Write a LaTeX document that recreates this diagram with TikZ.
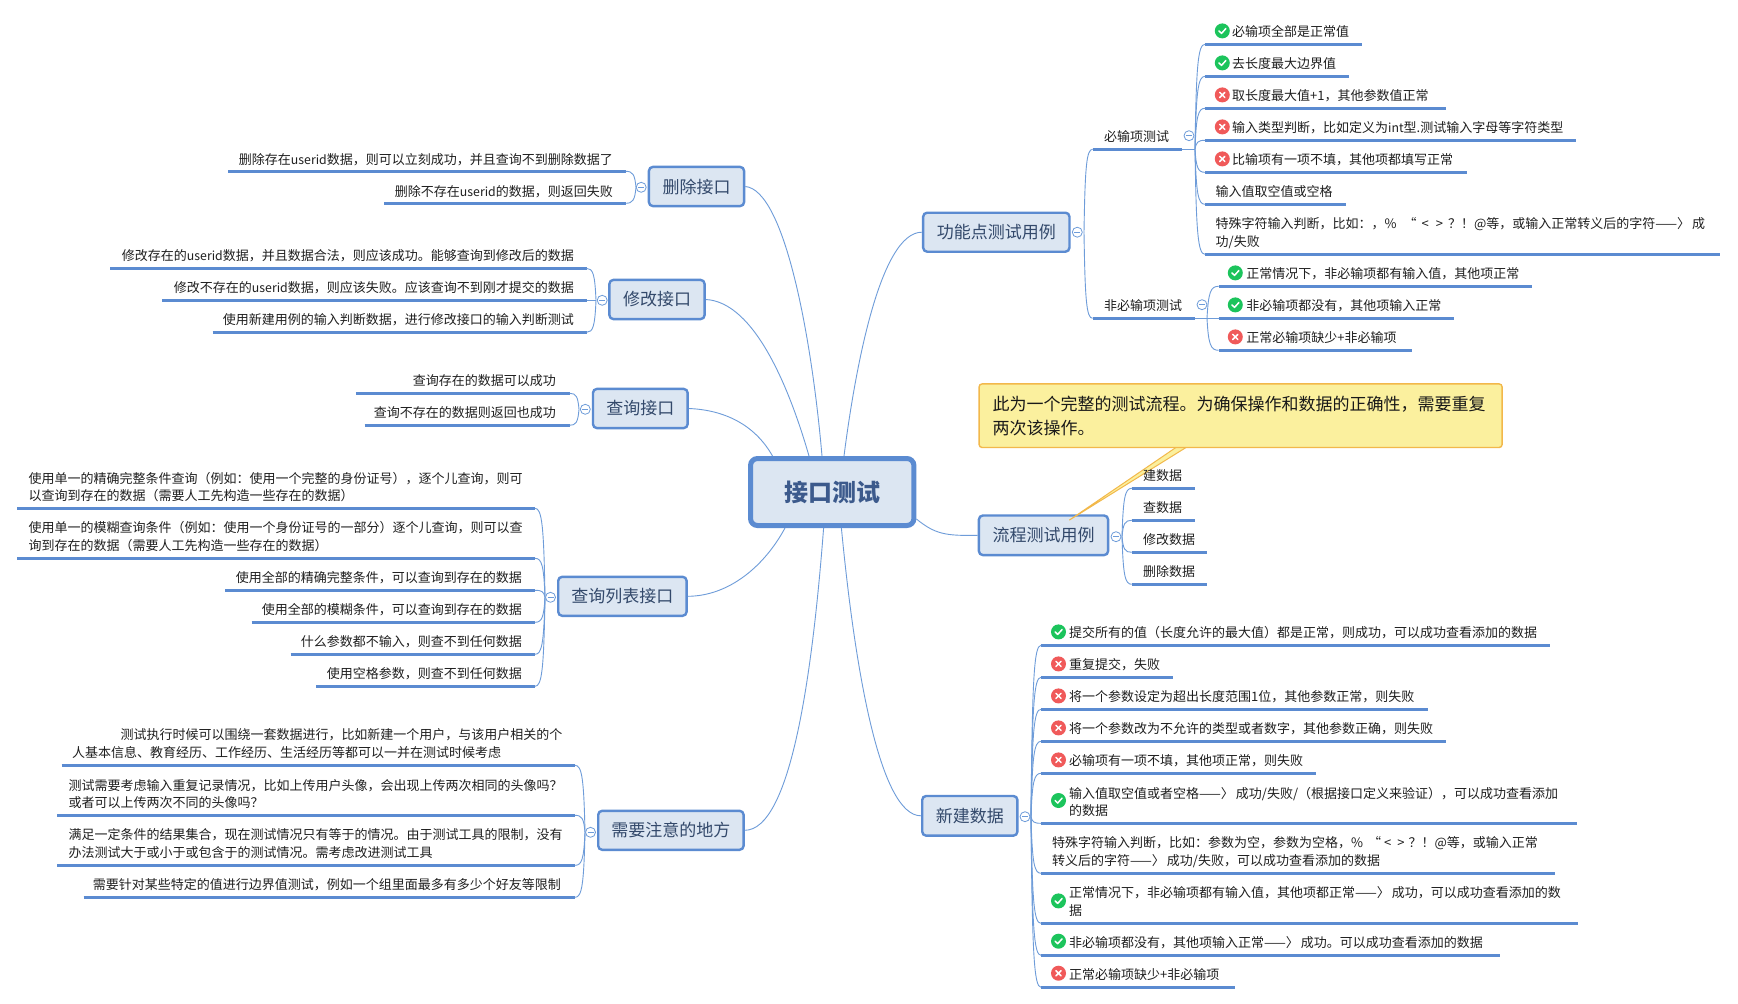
\documentclass[tikz,border=0pt]{standalone}
\usepackage{fontspec}
\setmainfont{Noto Sans CJK SC}
\usetikzlibrary{calc}
\definecolor{mapblue}{HTML}{5B8BD1}
\definecolor{connblue}{HTML}{6E9CD9}
\definecolor{boxfill}{HTML}{DCE6F2}
\definecolor{boxtext}{HTML}{33496B}
\definecolor{roottext}{HTML}{3C5A8C}
\definecolor{okgreen}{HTML}{1CC45C}
\definecolor{badred}{HTML}{F05A5A}
\definecolor{noteline}{HTML}{F2B84B}
\definecolor{notefill}{HTML}{FBF09E}
\tikzset{
  leaft/.style={inner sep=0pt,align=left,text=black!88,font=\fontsize{13}{17.7}\selectfont},
  uline/.style={draw=mapblue,line width=2.4pt},
  conn/.style={draw=connblue,line width=0.9pt},
  topic/.style={draw=mapblue,fill=boxfill,line width=2.4pt,rounded corners=4pt,inner sep=0pt,text=boxtext,font=\fontsize{17}{20}\selectfont},
  rootbox/.style={draw=mapblue,fill=boxfill,line width=5pt,rounded corners=7pt,inner sep=0pt,text=roottext,font=\fontsize{24}{28}\selectfont\bfseries},
  collapsec/.style={circle,draw=connblue,fill=white,line width=0.8pt,minimum size=10pt,inner sep=0pt},
  iconok/.style={circle,fill=okgreen,minimum size=15pt,inner sep=0pt},
  iconbad/.style={circle,fill=badred,minimum size=15pt,inner sep=0pt},
  glyph/.style={draw=white,line width=1.5pt,line cap=round,line join=round}
}
\newcommand\lat[1]{{\fontsize{12.3}{17.7}\selectfont #1}}
\newcommand\dashgo{——〉\hspace{2pt}}
\newcommand\lowered[1]{\raisebox{-2pt}{#1}}
\newcommand\leaf[8]{%
  \node[leaft,anchor=#2,yshift=-1pt] (#1) at (#3,#4) {#5};
  \coordinate (#1-l) at (#6,#8);
  \coordinate (#1-r) at (#7,#8);
  \draw[uline] (#1-l) -- (#1-r);}
\newcommand\fan[2]{%
  \draw[conn] let \p1=(#1), \p2=(#2) in (\p1) .. controls ({\x1+0.12*(\x2-\x1)},{\y1+0.8*(\y2-\y1)}) and ({\x1+0.3*(\x2-\x1)},\y2) .. (\p2);}
\newcommand\collapse[3]{%
  \node[collapsec] (#1) at (#2,#3) {};
  \draw[connblue,line width=0.8pt] ($(#1)+(-3pt,0)$) -- ($(#1)+(3pt,0)$);}
\newcommand\okicon[3]{%
  \node[iconok] (#1) at (#2,#3) {};
  \draw[glyph] ($(#1)+(-3.4pt,0pt)$) -- ($(#1)+(-0.8pt,-2.5pt)$) -- ($(#1)+(3.6pt,2.4pt)$);}
\newcommand\badicon[3]{%
  \node[iconbad] (#1) at (#2,#3) {};
  \draw[glyph] ($(#1)+(-2.6pt,-2.6pt)$) -- ($(#1)+(2.6pt,2.6pt)$) ($(#1)+(-2.6pt,2.6pt)$) -- ($(#1)+(2.6pt,-2.6pt)$);}
\begin{document}
\begin{tikzpicture}[x=1pt,y=-1pt]
\useasboundingbox (0,0) rectangle (1738,1004);
\fill[white] (0,0) rectangle (1738,1004);

% ---------- topics
\node[rootbox,minimum width=163.4pt,minimum height=67pt] (root) at (832.2,492) {\lowered{接口测试}};
\node[topic,minimum width=95.2pt,minimum height=39.2pt] (del) at (696.5,186.5) {\lowered{删除接口}};
\node[topic,minimum width=95.2pt,minimum height=39.2pt] (mod) at (657,299.5) {\lowered{修改接口}};
\node[topic,minimum width=94.7pt,minimum height=39.2pt] (qry) at (640.3,408.5) {\lowered{查询接口}};
\node[topic,minimum width=128.4pt,minimum height=39pt] (lst) at (622.4,596.3) {\lowered{查询列表接口}};
\node[topic,minimum width=145.4pt,minimum height=39pt] (att) at (670.9,830.3) {\lowered{需要注意的地方}};
\node[topic,minimum width=146.3pt,minimum height=39pt] (fun) at (996.3,232.2) {\lowered{功能点测试用例}};
\node[topic,minimum width=129.2pt,minimum height=39.6pt] (flw) at (1043.5,535.3) {\lowered{流程测试用例}};
\node[topic,minimum width=95.2pt,minimum height=39.7pt] (new) at (969.8,815.8) {\lowered{新建数据}};

% ---------- root connectors
\coordinate (r1) at (772.5,456);
\coordinate (r2) at (809,456);
\coordinate (r3) at (822,456);
\coordinate (r4) at (844,456);
\coordinate (r5) at (785,528);
\coordinate (r6) at (823.6,528);
\coordinate (r7) at (841.4,528);
\coordinate (r8) at (916.4,519);
\draw[conn] (del.east) .. controls (785,190) and (812,340) .. (r3);
\draw[conn] (mod.east) .. controls (755,302) and (790,390) .. (r2);
\draw[conn] (qry.east) .. controls (725,410) and (755,425) .. (r1);
\draw[conn] (lst.east) .. controls (730,596) and (765,565) .. (r5);
\draw[conn] (att.east) .. controls (790,830) and (812,680) .. (r6);
\draw[conn] (new.west) .. controls (880,816) and (855,670) .. (r7);
\draw[conn] (fun.west) .. controls (880,232) and (855,370) .. (r4);
\draw[conn] (flw.west) .. controls (945,536) and (935,534) .. (r8);

% ---------- delete
\coordinate (pdel) at (636,187.3);
\leaf{d1}{east}{613}{158.3}{删除存在\lat{userid}数据，则可以立刻成功，并且查询不到删除数据了}{228}{625.6}{171.3}
\leaf{d2}{east}{613}{190.3}{删除不存在\lat{userid}的数据，则返回失败}{384}{625.6}{203.3}
\fan{pdel}{d1-r}\fan{pdel}{d2-r}
\collapse{cdel}{641.2}{187.3}

% ---------- modify
\coordinate (pmod) at (596,300.3);
\leaf{m1}{east}{574}{255}{修改存在的\lat{userid}数据，并且数据合法，则应该成功。能够查询到修改后的数据}{110.4}{586.5}{268.3}
\leaf{m2}{east}{574}{287}{修改不存在的\lat{userid}数据，则应该失败。应该查询不到刚才提交的数据}{162.4}{586.5}{300.3}
\leaf{m3}{east}{574}{319}{使用新建用例的输入判断数据，进行修改接口的输入判断测试}{212.7}{586.5}{332.3}
\fan{pmod}{m1-r}\fan{pmod}{m2-r}\fan{pmod}{m3-r}
\collapse{cmod}{602.2}{300.3}

% ---------- query
\coordinate (pqry) at (579,409.3);
\leaf{q1}{east}{556}{380}{查询存在的数据可以成功}{355.9}{569.6}{393.3}
\leaf{q2}{east}{556}{412}{查询不存在的数据则返回也成功}{364.5}{569.6}{425.3}
\fan{pqry}{q1-r}\fan{pqry}{q2-r}
\collapse{cqry}{585.3}{409.3}

% ---------- list
\coordinate (plst) at (545,597.3);
\leaf{l1}{west}{28.5}{486}{使用单一的精确完整条件查询（例如：使用一个完整的身份证号），逐个儿查询，则可\\以查询到存在的数据（需要人工先构造一些存在的数据）}{17.4}{535}{508.3}
\leaf{l2}{west}{28.5}{535.7}{使用单一的模糊查询条件（例如：使用一个身份证号的一部分）逐个儿查询，则可以查\\询到存在的数据（需要人工先构造一些存在的数据）}{17.4}{535}{558.3}
\leaf{l3}{east}{522}{577}{使用全部的精确完整条件，可以查询到存在的数据}{225.4}{535}{590.3}
\leaf{l4}{east}{522}{609}{使用全部的模糊条件，可以查询到存在的数据}{251.6}{535}{622.3}
\leaf{l5}{east}{522}{641}{什么参数都不输入，则查不到任何数据}{290.6}{535}{654.3}
\leaf{l6}{east}{522}{673}{使用空格参数，则查不到任何数据}{316.3}{535}{686.3}
\fan{plst}{l1-r}\fan{plst}{l2-r}\fan{plst}{l3-r}\fan{plst}{l4-r}\fan{plst}{l5-r}\fan{plst}{l6-r}
\collapse{clst}{550.5}{597.3}

% ---------- attention
\coordinate (patt) at (585,832.3);
\leaf{a1}{west}{72}{742.3}{\hspace*{48.3pt}测试执行时候可以围绕一套数据进行，比如新建一个用户，与该用户相关的个\\人基本信息、教育经历、工作经历、生活经历等都可以一并在测试时候考虑}{61.6}{575}{765.3}
\leaf{a2}{west}{68.5}{793}{测试需要考虑输入重复记录情况，比如上传用户头像，会出现上传两次相同的头像吗？\\或者可以上传两次不同的头像吗？}{57.4}{575}{815.3}
\leaf{a3}{west}{68.5}{842.3}{满足一定条件的结果集合，现在测试情况只有等于的情况。由于测试工具的限制，没有\\办法测试大于或小于或包含于的测试情况。需考虑改进测试工具}{57.4}{575}{865.3}
\leaf{a4}{east}{561}{883.5}{需要针对某些特定的值进行边界值测试，例如一个组里面最多有多少个好友等限制}{83.6}{575}{897.3}
\fan{patt}{a1-r}\fan{patt}{a2-r}\fan{patt}{a3-r}\fan{patt}{a4-r}
\collapse{catt}{590.5}{832.3}

% ---------- function points
\coordinate (pfun) at (1084,232.2);
\leaf{f1}{west}{1104}{136}{必输项测试}{1092.6}{1181.5}{149.3}
\leaf{f2}{west}{1104}{305}{非必输项测试}{1092.6}{1194.6}{318.3}
\fan{pfun}{f1-l}\fan{pfun}{f2-l}
\collapse{cfun}{1077.3}{232.2}
\coordinate (pf1) at (1195,149.3);
\coordinate (pf2) at (1207,318.3);
\draw[conn] (f1-r) -- (pf1);
\draw[conn] (f2-r) -- (pf2);
\collapse{cf1}{1189}{135.7}
\collapse{cf2}{1202}{304.7}
\leaf{g1}{west}{1232}{30.7}{必输项全部是正常值}{1205}{1362.4}{44.3}
\leaf{g2}{west}{1232}{62.7}{去长度最大边界值}{1205}{1349.4}{76.3}
\leaf{g3}{west}{1232}{94.7}{取长度最大值+1，其他参数值正常}{1205}{1445.5}{108.3}
\leaf{g4}{west}{1232}{126.7}{输入类型判断，比如定义为\lat{int}型.测试输入字母等字符类型}{1205}{1576.4}{140.3}
\leaf{g5}{west}{1232}{158.7}{比输项有一项不填，其他项都填写正常}{1205}{1466.5}{172.3}
\leaf{g6}{west}{1215.5}{190.7}{输入值取空值或空格}{1205}{1345.6}{204.3}
\leaf{g7}{west}{1215.5}{232.5}{特殊字符输入判断，比如：，\%\hspace{7pt}“\hspace{5pt}<\hspace{7pt}>\hspace{5pt}？！@等，或输入正常转义后的字符\dashgo 成\\功/失败}{1205}{1720.4}{254.3}
\fan{pf1}{g1-l}\fan{pf1}{g2-l}\fan{pf1}{g3-l}\fan{pf1}{g4-l}\fan{pf1}{g5-l}\fan{pf1}{g6-l}\fan{pf1}{g7-l}
\okicon{ig1}{1222.3}{30.9}
\okicon{ig2}{1222.3}{62.9}
\badicon{ig3}{1222.3}{94.9}
\badicon{ig4}{1222.3}{126.9}
\badicon{ig5}{1222.3}{158.9}
\leaf{h1}{west}{1246.2}{272.7}{正常情况下，非必输项都有输入值，其他项正常}{1218.5}{1531.5}{286.3}
\leaf{h2}{west}{1246.2}{304.7}{非必输项都没有，其他项输入正常}{1218.5}{1453.5}{318.3}
\leaf{h3}{west}{1246.2}{336.7}{正常必输项缺少+非必输项}{1218.5}{1411.5}{350.3}
\fan{pf2}{h1-l}\fan{pf2}{h2-l}\fan{pf2}{h3-l}
\okicon{ih1}{1235.3}{272.9}
\okicon{ih2}{1235.3}{304.9}
\badicon{ih3}{1235.3}{336.9}

% ---------- note (its pointer lies under the flow leaves)
\coordinate (tipa) at (1176.6,447);
\coordinate (tipb) at (1186.8,447);
\coordinate (tip) at (1069.5,520);
\draw[draw=noteline,fill=notefill,line width=1pt,line join=round] (tipa) -- (tip) -- (tipb) -- cycle;
\node[draw=noteline,fill=notefill,line width=1.4pt,rounded corners=3pt,anchor=north west,inner xsep=13.5pt,inner ysep=0pt,text width=496pt,minimum height=63.6pt,align=left,text=black!90,font=\fontsize{17}{24}\selectfont] (note) at (978.4,383.2) {此为一个完整的测试流程。为确保操作和数据的正确性，需要重复\\两次该操作。};

% ---------- flow
\coordinate (pflw) at (1122,536.7);
\leaf{w1}{west}{1143}{475}{建数据}{1131.7}{1194.5}{488.3}
\leaf{w2}{west}{1143}{507}{查数据}{1131.7}{1194.5}{520.3}
\leaf{w3}{west}{1143}{539}{修改数据}{1131.7}{1207}{552.3}
\leaf{w4}{west}{1143}{571}{删除数据}{1131.7}{1207}{584.3}
\fan{pflw}{w1-l}\fan{pflw}{w2-l}\fan{pflw}{w3-l}\fan{pflw}{w4-l}
\collapse{cflw}{1116}{536.7}

% ---------- new data
\coordinate (pnew) at (1031,816.7);
\leaf{n1}{west}{1069}{631.7}{提交所有的值（长度允许的最大值）都是正常，则成功，可以成功查看添加的数据}{1041}{1549.6}{645.3}
\leaf{n2}{west}{1069}{663.7}{重复提交，失败}{1041}{1172.7}{677.3}
\leaf{n3}{west}{1069}{695.7}{将一个参数设定为超出长度范围1位，其他参数正常，则失败}{1041}{1427.5}{709.3}
\leaf{n4}{west}{1069}{727.7}{将一个参数改为不允许的类型或者数字，其他参数正确，则失败}{1041}{1445.7}{741.3}
\leaf{n5}{west}{1069}{759.7}{必输项有一项不填，其他项正常，则失败}{1041}{1315.5}{773.3}
\leaf{n6}{west}{1069}{801}{输入值取空值或者空格\dashgo 成功/失败/（根据接口定义来验证），可以成功查看添加\\的数据}{1041}{1576.5}{823.3}
\leaf{n7}{west}{1052}{851}{特殊字符输入判断，比如：参数为空，参数为空格，\%\hspace{5pt}“\hspace{3pt}<\hspace{6pt}>\hspace{4pt}？！@等，或输入正常\\转义后的字符\dashgo 成功/失败，可以成功查看添加的数据}{1041}{1554.7}{873.3}
\leaf{n8}{west}{1069}{900.5}{正常情况下，非必输项都有输入值，其他项都正常\dashgo 成功，可以成功查看添加的数\\据}{1041}{1577.6}{923.3}
\leaf{n9}{west}{1069}{941.7}{非必输项都没有，其他项输入正常\dashgo 成功。可以成功查看添加的数据}{1041}{1499.5}{955.3}
\leaf{n10}{west}{1069}{973.7}{正常必输项缺少+非必输项}{1041}{1234.5}{987.3}
\fan{pnew}{n1-l}\fan{pnew}{n2-l}\fan{pnew}{n3-l}\fan{pnew}{n4-l}\fan{pnew}{n5-l}\fan{pnew}{n6-l}\fan{pnew}{n7-l}\fan{pnew}{n8-l}\fan{pnew}{n9-l}\fan{pnew}{n10-l}
\collapse{cnew}{1025}{816.7}
\okicon{in1}{1058.5}{631.9}
\badicon{in2}{1058.5}{663.9}
\badicon{in3}{1058.5}{695.9}
\badicon{in4}{1058.5}{727.9}
\badicon{in5}{1058.5}{759.9}
\okicon{in6}{1058.5}{800.5}
\okicon{in8}{1058.5}{900.9}
\okicon{in9}{1058.5}{941.2}
\badicon{in10}{1058.5}{973.2}
\end{tikzpicture}
\end{document}
